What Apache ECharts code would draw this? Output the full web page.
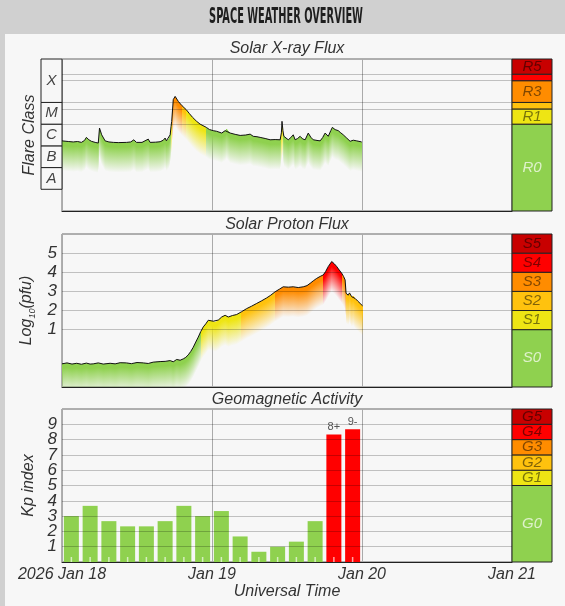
<!DOCTYPE html>
<html>
<head>
<meta charset="utf-8">
<title>Space Weather Overview</title>
<script src="https://cdn.jsdelivr.net/npm/echarts@6.0.0/dist/echarts.min.js"></script>
<style>
  html, body { margin: 0; padding: 0; background: #d0d0d0; }
  #chart { width: 565px; height: 606px; }
</style>
</head>
<body>
<div id="chart"></div>
<script>
// time axis: hours since 2026 Jan 18 00:00 UT
const dayTicks = [0, 24, 48, 72];
const dayLabels = ['2026 Jan 18', 'Jan 19', 'Jan 20', 'Jan 21'];

// GOES X-ray flux, log10(W/m2)
const xrayHours = [0, 1.0, 1.8, 2.5, 3.1, 3.6, 3.9, 4.3, 4.7, 5.3, 5.8, 6.0, 6.35, 6.9, 7.5, 8.2, 9.0, 10.35, 11.0, 11.5,
  11.9, 12.8, 13.8, 14.1, 15.0, 15.7, 16.2, 16.5, 16.7, 17.0, 17.3, 17.45, 17.55, 17.8, 18.1, 18.6, 19.2, 19.9, 20.4, 20.9,
  21.5, 22.1, 23.1, 23.6, 24.2, 24.75, 25.55, 26.1, 26.35, 26.9, 27.7, 28.5, 29.4, 30.1, 30.6, 31.2, 31.7, 32.5, 33.3, 34.1,
  34.9, 35.1, 35.2, 35.35, 35.5, 36.2, 36.6, 37.0, 37.3, 37.7, 38.1, 38.5, 38.9, 39.4, 39.8, 40.2, 40.8, 41.3, 41.7, 42.1,
  42.6, 43.0, 43.25, 43.7, 44.2, 44.6, 45.0, 45.55, 46.1, 46.6, 47.15, 47.95];
const xrayLog = [-5.77, -5.80, -5.82, -5.80, -5.84, -5.75, -5.61, -5.72, -5.79, -5.84, -5.87, -5.18, -5.49, -5.77, -5.82, -5.84, -5.85, -5.84, -5.82, -5.72,
  -5.84, -5.84, -5.69, -5.84, -5.83, -5.81, -5.74, -5.64, -5.77, -5.70, -5.49, -5.10, -4.87, -3.87, -3.72, -3.95, -4.15, -4.34, -4.52, -4.69,
  -4.86, -5.00, -5.15, -5.25, -5.30, -5.33, -5.41, -5.30, -5.21, -5.41, -5.47, -5.52, -5.50, -5.46, -5.56, -5.58, -5.61, -5.66, -5.72, -5.71,
  -5.72, -5.40, -4.87, -5.30, -5.56, -5.72, -5.62, -5.49, -5.72, -5.66, -5.56, -5.68, -5.72, -5.41, -5.60, -5.72, -5.75, -5.77, -5.62, -5.41,
  -5.56, -5.30, -5.15, -5.25, -5.30, -5.40, -5.49, -5.64, -5.79, -5.74, -5.77, -5.82];

// GOES >=10 MeV proton flux, log10(pfu)
const protonHours = [0, 0.8, 1.6, 2.35, 3.1, 3.9, 4.5, 5.0, 5.8, 6.6, 7.7, 8.5, 9.3, 10.3, 11.1, 12.0, 13.0, 13.8, 14.6, 15.7,
  16.5, 17.3, 17.8, 18.35, 18.9, 19.4, 19.8, 20.2, 20.6, 21.0, 21.4, 21.8, 22.2, 22.6, 23.0, 23.4, 23.7, 24.2, 24.5, 25.0,
  25.55, 26.1, 26.6, 27.3, 27.95, 28.7, 29.55, 30.3, 31.15, 31.9, 32.75, 33.4, 34.1, 34.8, 35.4, 36.2, 37.0, 37.8, 38.6, 39.2,
  39.7, 40.2, 40.75, 41.3, 41.8, 42.2, 42.6, 43.15, 43.55, 43.95, 44.35, 44.75, 45.05, 45.3, 45.45, 45.8, 46.0, 46.35, 46.6, 46.9,
  47.3, 47.7, 48.1];
const protonLog = [-0.79, -0.74, -0.80, -0.76, -0.81, -0.75, -0.80, -0.79, -0.74, -0.80, -0.76, -0.79, -0.73, -0.74, -0.78, -0.72, -0.74, -0.77, -0.70, -0.67,
  -0.66, -0.62, -0.68, -0.56, -0.60, -0.53, -0.45, -0.32, -0.14, 0.08, 0.35, 0.61, 0.90, 1.14, 1.30, 1.49, 1.49, 1.44, 1.40, 1.50,
  1.66, 1.75, 1.66, 1.74, 1.79, 1.93, 2.10, 2.22, 2.37, 2.50, 2.66, 2.80, 2.98, 3.12, 3.24, 3.22, 3.24, 3.20, 3.24, 3.30,
  3.42, 3.55, 3.68, 3.78, 3.86, 4.05, 4.30, 4.56, 4.45, 4.30, 4.12, 3.95, 3.78, 3.60, 2.90, 2.80, 2.92, 2.72, 2.78, 2.63,
  2.50, 2.37, 2.24];

// planetary Kp, 3-hour bins (bin centres)
const kpHours = [1.5, 4.5, 7.5, 10.5, 13.5, 16.5, 19.5, 22.5, 25.5, 28.5, 31.5, 34.5, 37.5, 40.5, 43.5, 46.5];
const kpValues = [3.00, 3.67, 2.67, 2.33, 2.33, 2.67, 3.67, 3.00, 3.33, 1.67, 0.67, 1.00, 1.33, 2.67, 8.33, 8.67];
const kpCodes = ['3o', '4-', '3-', '2+', '2+', '3-', '4-', '3o', '3+', '2-', '1-', '1o', '1+', '3-', '8+', '9-'];

// NOAA scales
const levelColors = ['#8fd14f', '#eee514', '#ffc20e', '#ff8c00', '#ff0000', '#c80000'];
const flareClasses = ['A', 'B', 'C', 'M', 'X'];
const flareBounds = [-8, -7, -6, -5, -4, -2];
const rNames = ['R0', 'R1', 'R2', 'R3', 'R4', 'R5'];
const rBounds = [-9, -5, -4.301, -4, -3, -2.699, -2];
const sNames = ['S0', 'S1', 'S2', 'S3', 'S4', 'S5'];
const sBounds = [-2, 1, 2, 3, 4, 5, 6];
const gNames = ['G0', 'G1', 'G2', 'G3', 'G4', 'G5'];
const gBounds = [0, 5, 6, 7, 8, 9, 10];

const FONT = '"Liberation Sans", Arial, sans-serif';
const FADE = 30;
const GRID_LINE = 'rgba(0,0,0,0.22)';
const panels = [{ top: 59, height: 152 }, { top: 234, height: 153 }, { top: 409, height: 153 }];

function levelOf(v, bounds) {
  let k = 0;
  for (let i = 1; i < bounds.length - 1; i++) if (v >= bounds[i]) k = i;
  return k;
}
function clear(hex) {
  const n = parseInt(hex.slice(1), 16);
  return 'rgba(' + (n >> 16) + ',' + ((n >> 8) & 255) + ',' + (n & 255) + ',0)';
}

// faded 1px columns under the flux line, coloured by scale level
function fadeFill(hours, vals, bounds) {
  return function (params, api) {
    const i = params.dataIndex;
    if (i >= hours.length - 1) return null;
    const p = api.coord([hours[i], vals[i]]);
    const q = api.coord([hours[i + 1], vals[i + 1]]);
    const c = levelColors[levelOf(Math.max(vals[i], vals[i + 1]), bounds)];
    const children = [];
    for (let x = Math.round(p[0]); x < Math.round(q[0]); x++) {
      const t = Math.min(1, Math.max(0, (x + 0.5 - p[0]) / (q[0] - p[0])));
      const y = p[1] + (q[1] - p[1]) * t;
      children.push({
        type: 'rect', shape: { x: x, y: y, width: 1, height: FADE },
        style: { fill: new echarts.graphic.LinearGradient(0, y, 0, y + FADE, [
          { offset: 0, color: c }, { offset: 0.15, color: c }, { offset: 1, color: clear(c) }], true) }
      });
    }
    return { type: 'group', children: children };
  };
}

function bandItem(names, bounds, hideSmall) {
  return function (params, api) {
    const i = params.dataIndex;
    const a = api.coord([0, bounds[i + 1]]);
    const b = api.coord([1, bounds[i]]);
    const h = b[1] - a[1];
    return {
      type: 'group',
      children: [
        { type: 'rect', shape: { x: a[0], y: a[1], width: b[0] - a[0], height: h },
          style: { fill: levelColors[i], stroke: '#222', lineWidth: 1 } },
        { type: 'text', style: { text: (hideSmall && h < 12) ? '' : names[i],
          x: (a[0] + b[0]) / 2, y: a[1] + h / 2, align: 'center', verticalAlign: 'middle',
          font: 'italic 15px ' + FONT, fill: i === 0 ? 'rgba(255,255,255,0.7)' : 'rgba(0,0,0,0.5)' } }
      ]
    };
  };
}

function flareItem(params, api) {
  const i = params.dataIndex;
  const a = api.coord([0, flareBounds[i + 1]]);
  const b = api.coord([1, flareBounds[i]]);
  return {
    type: 'group',
    children: [
      { type: 'rect', shape: { x: a[0], y: a[1], width: b[0] - a[0], height: b[1] - a[1] },
        style: { fill: '#f7f7f7', stroke: '#222', lineWidth: 1 } },
      { type: 'text', style: { text: flareClasses[i], x: (a[0] + b[0]) / 2, y: (a[1] + b[1]) / 2,
        align: 'center', verticalAlign: 'middle', font: 'italic 15px ' + FONT, fill: '#444' } }
    ]
  };
}

const grids = [];
panels.forEach(p => grids.push({ left: 62, width: 450, top: p.top, height: p.height, show: true,
  borderColor: '#666', backgroundColor: 'transparent', outerBoundsMode: 'none' }));
grids.push({ left: 41, width: 21, top: 59, height: 152, outerBoundsMode: 'none' });
panels.forEach(p => grids.push({ left: 512, width: 40, top: p.top, height: p.height, outerBoundsMode: 'none' }));

const axisText = { fontSize: 16, fontStyle: 'italic', color: '#333', fontFamily: FONT };

const xAxes = [0, 1, 2].map(g => ({
  type: 'value', gridIndex: g, min: 0, max: 72, interval: 24,
  axisLine: { show: true, onZero: false, lineStyle: { color: '#222' } },
  axisTick: { show: false },
  axisLabel: Object.assign({ show: g === 2, margin: 5, formatter: v => dayLabels[dayTicks.indexOf(v)] }, axisText),
  splitLine: { show: true, lineStyle: { color: '#aaa' } },
  name: g === 2 ? 'Universal Time' : '', nameLocation: 'middle', nameGap: 21, nameTextStyle: axisText
}));
for (let g = 3; g < 7; g++) xAxes.push({ type: 'value', gridIndex: g, min: 0, max: 1, show: false });

const yBase = { axisTick: { show: false }, splitLine: { show: false }, axisLine: { show: false },
  nameLocation: 'middle', nameGap: 24, nameTextStyle: axisText };
const yAxes = [
  Object.assign({}, yBase, { type: 'value', gridIndex: 0, min: -9, max: -2, axisLabel: { show: false }, name: 'Flare Class' }),
  Object.assign({}, yBase, { type: 'value', gridIndex: 1, min: -2, max: 6, interval: 1,
    axisLabel: Object.assign({ margin: 5, formatter: v => (v >= 1 && v <= 5) ? v : '' }, axisText, { fontSize: 17 }),
    name: '{t|Log}{s|10}{t|(pfu)}',
    nameTextStyle: { rich: {
      t: { fontSize: 16, fontStyle: 'italic', color: '#333', fontFamily: FONT, lineHeight: 20 },
      s: { fontSize: 9, fontStyle: 'italic', color: '#333', fontFamily: FONT, verticalAlign: 'bottom', lineHeight: 20 } } } }),
  Object.assign({}, yBase, { type: 'value', gridIndex: 2, min: 0, max: 10, interval: 1,
    axisLabel: Object.assign({ margin: 5, formatter: v => (v >= 1 && v <= 9) ? v : '' }, axisText, { fontSize: 17 }),
    name: 'Kp index' }),
  { type: 'value', gridIndex: 3, min: -9, max: -2, show: false },
  { type: 'value', gridIndex: 4, min: -9, max: -2, show: false },
  { type: 'value', gridIndex: 5, min: -2, max: 6, show: false },
  { type: 'value', gridIndex: 6, min: 0, max: 10, show: false }
];

function gridLines(values) {
  return { symbol: 'none', silent: true, label: { show: false }, animation: false,
    lineStyle: { color: GRID_LINE, type: 'solid', width: 1 }, data: values.map(v => ({ yAxis: v })) };
}

const titleStyle = { fontSize: 16, fontStyle: 'italic', fontWeight: 'normal', color: '#333', fontFamily: FONT };

const option = {
  backgroundColor: '#d0d0d0',
  animation: false,
  textStyle: { fontFamily: FONT },
  graphic: [
    { type: 'rect', z: -10, shape: { x: 5, y: 34, width: 560, height: 572 }, style: { fill: '#f7f7f7' } },
    { type: 'text', x: 286, y: 18, scaleX: 0.52, style: { text: 'SPACE WEATHER OVERVIEW', align: 'center', verticalAlign: 'middle',
      font: 'bold 21px "DejaVu Sans Condensed", "Liberation Sans Narrow", sans-serif', fill: '#1e1e1e' } }
  ],
  title: [
    { text: 'Solar X-ray Flux', left: 287, top: 41, textAlign: 'center', padding: 0, textStyle: titleStyle },
    { text: 'Solar Proton Flux', left: 287, top: 217, textAlign: 'center', padding: 0, textStyle: titleStyle },
    { text: 'Geomagnetic Activity', left: 287, top: 392, textAlign: 'center', padding: 0, textStyle: titleStyle }
  ],
  grid: grids,
  xAxis: xAxes,
  yAxis: yAxes,
  series: [
    { type: 'custom', xAxisIndex: 0, yAxisIndex: 0, clip: true, z: 2,
      renderItem: fadeFill(xrayHours, xrayLog, rBounds),
      data: xrayHours.map((h, i) => [h, xrayLog[i]]) },
    { type: 'line', xAxisIndex: 0, yAxisIndex: 0, showSymbol: false, z: 3,
      lineStyle: { color: '#111', width: 1 },
      data: xrayHours.map((h, i) => [h, xrayLog[i]]),
      markLine: gridLines([-5, -4.301, -4, -3, -2.699]) },

    { type: 'custom', xAxisIndex: 1, yAxisIndex: 1, clip: true, z: 2,
      renderItem: fadeFill(protonHours, protonLog, sBounds),
      data: protonHours.map((h, i) => [h, protonLog[i]]) },
    { type: 'line', xAxisIndex: 1, yAxisIndex: 1, showSymbol: false, z: 3,
      lineStyle: { color: '#111', width: 1 },
      data: protonHours.map((h, i) => [h, protonLog[i]]),
      markLine: gridLines([1, 2, 3, 4, 5]) },

    { type: 'bar', xAxisIndex: 2, yAxisIndex: 2, barWidth: 15, z: 2,
      data: kpHours.map((h, i) => [h, kpValues[i]]),
      itemStyle: { color: p => levelColors[levelOf(kpValues[p.dataIndex], gBounds)] },
      label: { show: true, position: 'top', distance: 2, fontSize: 11, color: '#555', fontFamily: FONT,
        formatter: p => kpValues[p.dataIndex] >= 5 ? kpCodes[p.dataIndex] : '' },
      markLine: gridLines([1, 2, 3, 4, 5, 6, 7, 8, 9]) },
    { type: 'scatter', xAxisIndex: 2, yAxisIndex: 2, z: 4, silent: true,
      symbol: 'rect', symbolSize: [1.5, 5], symbolOffset: [0, -2.5],
      itemStyle: { color: 'rgba(255,255,255,0.8)' },
      data: kpHours.map(h => [h, 0]) },

    { type: 'custom', xAxisIndex: 3, yAxisIndex: 3, renderItem: flareItem,
      data: flareClasses.map((c, i) => [0.5, flareBounds[i]]) },
    { type: 'custom', xAxisIndex: 4, yAxisIndex: 4, renderItem: bandItem(rNames, rBounds, true),
      data: rNames.map((n, i) => [0.5, rBounds[i]]) },
    { type: 'custom', xAxisIndex: 5, yAxisIndex: 5, renderItem: bandItem(sNames, sBounds, false),
      data: sNames.map((n, i) => [0.5, sBounds[i]]) },
    { type: 'custom', xAxisIndex: 6, yAxisIndex: 6, renderItem: bandItem(gNames, gBounds, false),
      data: gNames.map((n, i) => [0.5, gBounds[i]]) }
  ]
};

const chart = echarts.init(document.getElementById('chart'), null, { renderer: 'canvas' });
chart.setOption(option);
</script>
</body>
</html>
